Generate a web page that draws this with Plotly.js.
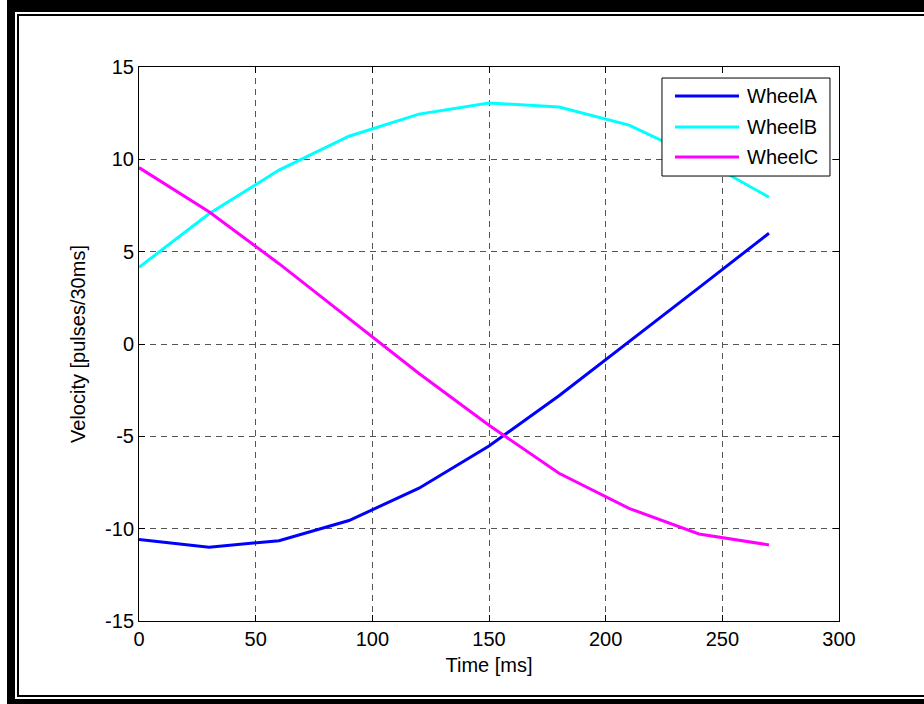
<!DOCTYPE html>
<html>
<head>
<meta charset="utf-8">
<script src="https://cdn.plot.ly/plotly-3.0.1.min.js"></script>
<style>
  html, body { margin: 0; padding: 0; background: #fff; }
  #wrap { position: relative; width: 924px; height: 704px; overflow: hidden; background: #fff; }
  #chart { position: absolute; left: 0; top: 0; width: 924px; height: 704px; }
  .bar { position: absolute; background: #000; z-index: 5; }
</style>
</head>
<body>
<div id="wrap">
  <div id="chart"></div>
  <!-- outer frame -->
  <div class="bar" style="left:7px; top:0px; width:917px; height:12px;"></div>
  <div class="bar" style="left:7px; top:0px; width:8px; height:704px;"></div>
  <div class="bar" style="left:7px; top:699px; width:917px; height:5px;"></div>
  <!-- inner thin frame -->
  <div class="bar" style="left:17px; top:14px; width:907px; height:2px;"></div>
  <div class="bar" style="left:17px; top:14px; width:2px; height:683px;"></div>
  <div class="bar" style="left:17px; top:695px; width:907px; height:2px;"></div>
</div>
<script>
// ---- data ----
var timeMs = [0, 30, 60, 90, 120, 150, 180, 210, 240, 270];
var wheelA = [-10.58, -11.0, -10.65, -9.56, -7.81, -5.52, -2.8, 0.1, 3.05, 6.0];
var wheelB = [4.15, 7.05, 9.42, 11.25, 12.45, 13.05, 12.83, 11.85, 10.07, 7.95];
var wheelC = [9.55, 7.16, 4.35, 1.35, -1.6, -4.4, -7.0, -8.9, -10.29, -10.88];
var seriesNames = ['WheelA', 'WheelB', 'WheelC'];
var seriesColors = ['#0000ff', '#00ffff', '#ff00ff'];
var xTicks = [0, 50, 100, 150, 200, 250, 300];
var yTicks = [-15, -10, -5, 0, 5, 10, 15];

var allY = [wheelA, wheelB, wheelC];
var traces = allY.map(function (ys, i) {
  return {
    x: timeMs, y: ys, type: 'scatter', mode: 'lines',
    name: seriesNames[i],
    line: { color: seriesColors[i], width: 3 },
    showlegend: false
  };
});

// custom MATLAB-style legend (paper coords)
var L = { x0: 0.7471, x1: 0.9871, y0: 0.8032, y1: 0.9801, lx0: 0.7657, lx1: 0.8571, tx: 0.8657 };
var rowY = [0.9477, 0.8917, 0.8375];
var shapes = [{
  type: 'rect', xref: 'paper', yref: 'paper',
  x0: L.x0, x1: L.x1, y0: L.y0, y1: L.y1,
  line: { color: '#000', width: 1 }, fillcolor: '#fff', layer: 'above'
}];
var annotations = [];
seriesNames.forEach(function (n, i) {
  shapes.push({
    type: 'line', xref: 'paper', yref: 'paper',
    x0: L.lx0, x1: L.lx1, y0: rowY[i], y1: rowY[i],
    line: { color: seriesColors[i], width: 3 }, layer: 'above'
  });
  annotations.push({
    xref: 'paper', yref: 'paper', x: L.tx, y: rowY[i],
    xanchor: 'left', yanchor: 'middle', showarrow: false,
    text: n, font: { family: 'Liberation Sans, Arial, sans-serif', size: 20, color: '#000' }
  });
});

var axisCommon = {
  showline: true, linecolor: '#000', linewidth: 1, mirror: 'ticks',
  ticks: 'inside', ticklen: 6, tickcolor: '#000', tickwidth: 1,
  showgrid: true, gridcolor: '#555', gridwidth: 1, griddash: '6px,5px',
  zeroline: false,
  tickfont: { family: 'Liberation Sans, Arial, sans-serif', size: 20, color: '#000' }
};

var layout = {
  width: 924, height: 704,
  margin: { l: 139, r: 85, t: 67, b: 83, pad: 0 },
  paper_bgcolor: '#fff', plot_bgcolor: '#fff',
  font: { family: 'Liberation Sans, Arial, sans-serif', size: 20, color: '#000' },
  xaxis: Object.assign({}, axisCommon, {
    range: [0, 300], tickvals: xTicks, ticktext: xTicks.map(String),
    title: { text: 'Time [ms]', font: { size: 20, color: '#000' }, standoff: 8 }
  }),
  yaxis: Object.assign({}, axisCommon, {
    range: [-15, 15], tickvals: yTicks, ticktext: yTicks.map(String),
    title: { text: 'Velocity [pulses/30ms]', font: { size: 20, color: '#000' }, standoff: 14 }
  }),
  shapes: shapes,
  annotations: annotations,
  showlegend: false
};

Plotly.newPlot('chart', traces, layout, { displayModeBar: false, staticPlot: true });
</script>
</body>
</html>
